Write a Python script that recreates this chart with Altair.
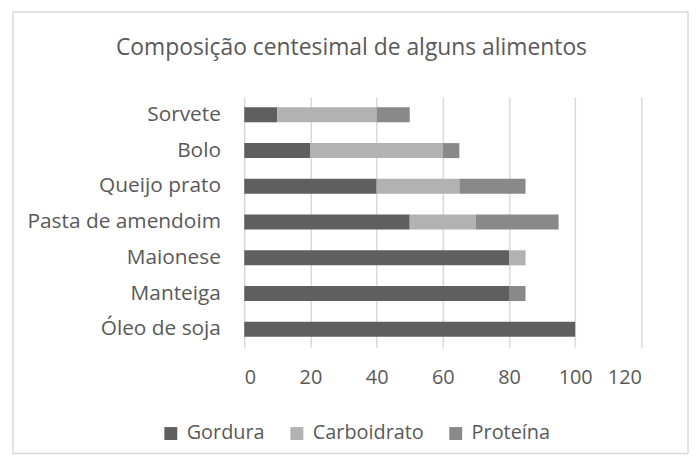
import altair as alt
import pandas as pd

foods = ["Sorvete", "Bolo", "Queijo prato", "Pasta de amendoim", "Maionese", "Manteiga", "Óleo de soja"]
series = ["Gordura", "Carboidrato", "Proteína"]
gordura = [10, 20, 40, 50, 80, 80, 100]
carboidrato = [30, 40, 25, 20, 5, 0, 0]
proteina = [10, 5, 20, 25, 0, 5, 0]
colors = ["#5f5f5f", "#b2b2b2", "#898989"]
x_ticks = [0, 20, 40, 60, 80, 100, 120]
title_text = "Composição centesimal de alguns alimentos"

rows = []
for i, f in enumerate(foods):
    for j, (s, vals) in enumerate(zip(series, [gordura, carboidrato, proteina])):
        rows.append({"Alimento": f, "Componente": s, "Valor": vals[i], "ordem": j})
df = pd.DataFrame(rows)

FONT = "Open Sans"
TXT = "#595959"

bars = alt.Chart(df).mark_bar().encode(
    y=alt.Y("Alimento:N", sort=foods,
            scale=alt.Scale(paddingInner=0.58, paddingOuter=0.29),
            axis=alt.Axis(title=None, ticks=False, domain=False, labelPadding=24,
                          labelFontSize=21, labelColor=TXT, labelFont=FONT, grid=False,
                          labelLimit=400)),
    x=alt.X("sum(Valor):Q", stack="zero",
            scale=alt.Scale(domain=[0, 120], nice=False),
            axis=alt.Axis(title=None, values=x_ticks, ticks=False, domain=False,
                          labelPadding=21, labelFontSize=20, labelColor=TXT, labelFont=FONT,
                          grid=True, gridColor="#d9d9d9", gridWidth=1.5)),
    color=alt.Color("Componente:N", sort=series,
                    scale=alt.Scale(domain=series, range=colors),
                    legend=alt.Legend(title=None, orient="none", direction="horizontal",
                                      legendX=-84, legendY=329, symbolType="square",
                                      symbolSize=169, symbolStrokeWidth=0,
                                      labelFontSize=20, labelColor=TXT, labelFont=FONT,
                                      columnPadding=22, labelOffset=6)),
    order=alt.Order("ordem:Q"),
)

border = alt.Chart(pd.DataFrame({"a": [0]})).mark_rect(
    fill=None, stroke="#d9d9d9", strokeWidth=1.5
).encode(
    x=alt.value(-233), x2=alt.value(447), y=alt.value(-85.5), y2=alt.value(359)
)

title = alt.Chart(pd.DataFrame({"t": [title_text]})).mark_text(
    font=FONT, fontSize=23, color=TXT, align="center", baseline="middle"
).encode(
    text="t:N", x=alt.value(108), y=alt.value(-49)
)

chart = alt.layer(border, bars, title).properties(
    width=400, height=252,
    autosize=alt.AutoSizeParams(type="none"),
    padding={"left": 238, "top": 88, "right": 50, "bottom": 110},
).configure_view(stroke=None).configure_axis(labelFont=FONT)

chart.save("out.html", embed_options={"renderer": "svg", "actions": False})
